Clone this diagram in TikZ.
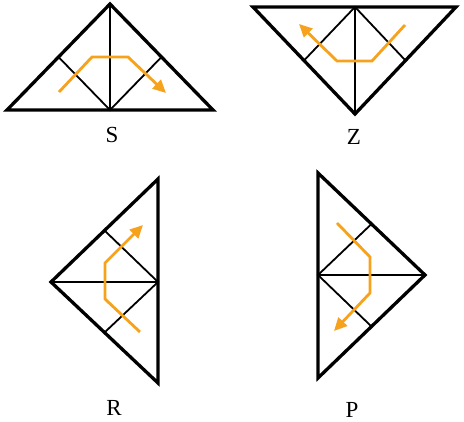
\documentclass[tikz,border=0pt]{standalone}
\usepackage{fontspec}
\setmainfont{Liberation Serif}
\usepackage{tikz}
\usepackage{xcolor}
\usetikzlibrary{arrows.meta}
\definecolor{foldorange}{RGB}{246,162,28}
\tikzset{
    tri-edge/.style = {draw=black, line width=3.3pt, line join=miter},
    tri-fold/.style = {draw=black, line width=1.8pt},
    fold-path/.style = {draw=foldorange, line width=2.8pt, -{Triangle[length=13pt,width=12pt]}},
    tri-label/.style = {font=\fontsize{23}{27}\selectfont, inner sep=0pt},
}

\begin{document}
\begin{tikzpicture}[x=1pt, y=-1pt]
\useasboundingbox (0,0) rectangle (464,422);
% S
\coordinate (s-top) at (110,4);
\coordinate (s-left) at (7,110);
\coordinate (s-right) at (213,110);
\coordinate (s-mid) at (110,110);
\draw [tri-fold] (s-top) -- (s-mid) (58.5,57) -- (s-mid) -- (161.5,57);
\draw [tri-edge] (s-left) -- (s-top) -- (s-right) -- cycle;
\draw [fold-path] (59,92) -- (92,57) -- (128,57) -- (166,93);
\node [tri-label] (s-name) at (112,135) {S};
% Z
\coordinate (z-left) at (253,7);
\coordinate (z-right) at (456,7);
\coordinate (z-bot) at (355,114);
\coordinate (z-mid) at (355,7);
\draw [tri-fold] (z-bot) -- (z-mid) (304,60.5) -- (z-mid) -- (405.5,60.5);
\draw [tri-edge] (z-left) -- (z-right) -- (z-bot) -- cycle;
\draw [fold-path] (405,25) -- (372,61) -- (337,61) -- (299,24);
\node [tri-label] (z-name) at (354,137) {Z};
% R
\coordinate (r-top) at (158,179);
\coordinate (r-bot) at (158,383);
\coordinate (r-apex) at (51,282);
\coordinate (r-mid) at (158,282);
\draw [tri-fold] (r-apex) -- (r-mid) (104.5,230.5) -- (r-mid) -- (104.5,332.5);
\draw [tri-edge] (r-top) -- (r-bot) -- (r-apex) -- cycle;
\draw [fold-path] (140,332) -- (105,299) -- (105,263) -- (143,225);
\node [tri-label] (r-name) at (114,408) {R};
% P
\coordinate (p-top) at (318,173);
\coordinate (p-bot) at (318,378);
\coordinate (p-apex) at (425,275);
\coordinate (p-mid) at (318,275);
\draw [tri-fold] (p-apex) -- (p-mid) (371.5,224) -- (p-mid) -- (371.5,326.5);
\draw [tri-edge] (p-top) -- (p-apex) -- (p-bot) -- cycle;
\draw [fold-path] (337,223) -- (370,257) -- (370,293) -- (334,331);
\node [tri-label] (p-name) at (352,410) {P};
\end{tikzpicture}
\end{document}
